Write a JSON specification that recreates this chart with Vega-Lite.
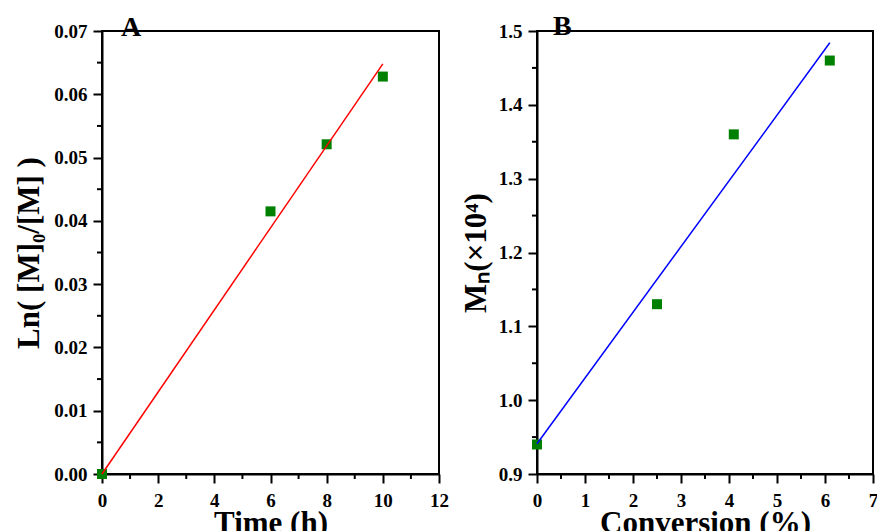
{
  "$schema": "https://vega.github.io/schema/vega-lite/v6.json",
  "background": "white",
  "padding": {"left": 12, "top": 12, "right": 0, "bottom": 0},
  "spacing": 98,
  "bounds": "flush",
  "config": {
    "view": {"stroke": "black", "strokeWidth": 2},
    "axis": {"grid": false, "domainColor": "black", "domainWidth": 2, "tickColor": "black", "tickWidth": 2}
  },
  "hconcat": [
    {
      "width": 337, "height": 443,
      "title": {"text": "A", "anchor": "start", "frame": "group", "orient": "top", "offset": 0, "dx": 19, "dy": 42, "baseline": "alphabetic", "font": "Liberation Serif", "fontWeight": "bold", "fontSize": 28, "color": "black"},
      "layer": [
        {
          "data": {"values": [{"t": 0, "v": 0}, {"t": 6, "v": 0.0415}, {"t": 8, "v": 0.0521}, {"t": 10, "v": 0.0628}]},
          "mark": {"type": "square", "color": "#008000", "opacity": 1, "size": 100},
          "encoding": {
            "x": {"field": "t", "type": "quantitative", "scale": {"domain": [0, 12], "nice": false, "zero": false},
              "axis": {"title": "Time (h)", "values": [0, 2, 4, 6, 8, 10, 12],
                "labelFont": "Liberation Serif", "labelFontWeight": "bold", "labelFontSize": 19, "labelColor": "black",
                "labelFlush": false, "labelBaseline": "alphabetic", "labelPadding": 23,
                "titleFont": "Liberation Serif", "titleFontWeight": "bold", "titleFontSize": 31, "titleColor": "black",
                "titleBaseline": "alphabetic", "titleY": 58, "tickSize": 9}},
            "y": {"field": "v", "type": "quantitative", "scale": {"domain": [0, 0.07], "nice": false},
              "axis": {"title": "Ln( [M]₀/[M] )", "values": [0, 0.01, 0.02, 0.03, 0.04, 0.05, 0.06, 0.07], "format": ".2f",
                "labelFont": "Liberation Serif", "labelFontWeight": "bold", "labelFontSize": 19, "labelColor": "black", "labelPadding": 6,
                "titleFont": "Liberation Serif", "titleFontWeight": "bold", "titleFontSize": 31, "titleColor": "black",
                "titleBaseline": "alphabetic", "titleX": -64, "tickSize": 9}}
          }
        },
        {
          "data": {"values": [{"t": 0, "v": 0}, {"t": 10, "v": 0.0648}]},
          "mark": {"type": "line", "color": "#ff0000", "strokeWidth": 1.5},
          "encoding": {"x": {"field": "t", "type": "quantitative"}, "y": {"field": "v", "type": "quantitative"}}
        },
        {
          "data": {"values": [{"t": 1, "v": 0}, {"t": 3, "v": 0}, {"t": 5, "v": 0}, {"t": 7, "v": 0}, {"t": 9, "v": 0}, {"t": 11, "v": 0}]},
          "mark": {"type": "rule", "color": "black", "strokeWidth": 2, "y2Offset": 5},
          "encoding": {"x": {"field": "t", "type": "quantitative"}, "y": {"field": "v", "type": "quantitative"}, "y2": {"field": "v"}}
        },
        {
          "data": {"values": [{"v": 0.005, "t": 0}, {"v": 0.015, "t": 0}, {"v": 0.025, "t": 0}, {"v": 0.035, "t": 0}, {"v": 0.045, "t": 0}, {"v": 0.055, "t": 0}, {"v": 0.065, "t": 0}]},
          "mark": {"type": "rule", "color": "black", "strokeWidth": 2, "x2Offset": -5},
          "encoding": {"y": {"field": "v", "type": "quantitative"}, "x": {"field": "t", "type": "quantitative"}, "x2": {"field": "t"}}
        }
      ]
    },
    {
      "width": 336, "height": 443,
      "title": {"text": "B", "anchor": "start", "frame": "group", "orient": "top", "offset": 0, "dx": 16, "dy": 41, "baseline": "alphabetic", "font": "Liberation Serif", "fontWeight": "bold", "fontSize": 28, "color": "black"},
      "layer": [
        {
          "data": {"values": [{"c": 0, "m": 0.94}, {"c": 2.5, "m": 1.13}, {"c": 4.1, "m": 1.36}, {"c": 6.1, "m": 1.46}]},
          "mark": {"type": "square", "color": "#008000", "opacity": 1, "size": 100},
          "encoding": {
            "x": {"field": "c", "type": "quantitative", "scale": {"domain": [0, 7], "nice": false, "zero": false},
              "axis": {"title": "Conversion (%)", "values": [0, 1, 2, 3, 4, 5, 6, 7],
                "labelFont": "Liberation Serif", "labelFontWeight": "bold", "labelFontSize": 19, "labelColor": "black",
                "labelFlush": false, "labelBaseline": "alphabetic", "labelPadding": 23,
                "titleFont": "Liberation Serif", "titleFontWeight": "bold", "titleFontSize": 31, "titleColor": "black",
                "titleBaseline": "alphabetic", "titleY": 58, "tickSize": 9}},
            "y": {"field": "m", "type": "quantitative", "scale": {"domain": [0.9, 1.5], "nice": false, "zero": false},
              "axis": {"title": "Mₙ(×10⁴)", "values": [0.9, 1.0, 1.1, 1.2, 1.3, 1.4, 1.5], "format": ".1f",
                "labelFont": "Liberation Serif", "labelFontWeight": "bold", "labelFontSize": 19, "labelColor": "black", "labelPadding": 6,
                "titleFont": "Liberation Serif", "titleFontWeight": "bold", "titleFontSize": 31, "titleColor": "black",
                "titleBaseline": "alphabetic", "titleX": -52, "tickSize": 9}}
          }
        },
        {
          "data": {"values": [{"c": 0, "m": 0.941}, {"c": 6.1, "m": 1.484}]},
          "mark": {"type": "line", "color": "#0000ff", "strokeWidth": 1.5},
          "encoding": {"x": {"field": "c", "type": "quantitative"}, "y": {"field": "m", "type": "quantitative"}}
        },
        {
          "data": {"values": [{"c": 0.5, "m": 0.9}, {"c": 1.5, "m": 0.9}, {"c": 2.5, "m": 0.9}, {"c": 3.5, "m": 0.9}, {"c": 4.5, "m": 0.9}, {"c": 5.5, "m": 0.9}, {"c": 6.5, "m": 0.9}]},
          "mark": {"type": "rule", "color": "black", "strokeWidth": 2, "y2Offset": 5},
          "encoding": {"x": {"field": "c", "type": "quantitative"}, "y": {"field": "m", "type": "quantitative"}, "y2": {"field": "m"}}
        },
        {
          "data": {"values": [{"m": 0.95, "c": 0}, {"m": 1.05, "c": 0}, {"m": 1.15, "c": 0}, {"m": 1.25, "c": 0}, {"m": 1.35, "c": 0}, {"m": 1.45, "c": 0}]},
          "mark": {"type": "rule", "color": "black", "strokeWidth": 2, "x2Offset": -5},
          "encoding": {"y": {"field": "m", "type": "quantitative"}, "x": {"field": "c", "type": "quantitative"}, "x2": {"field": "c"}}
        }
      ]
    }
  ]
}
